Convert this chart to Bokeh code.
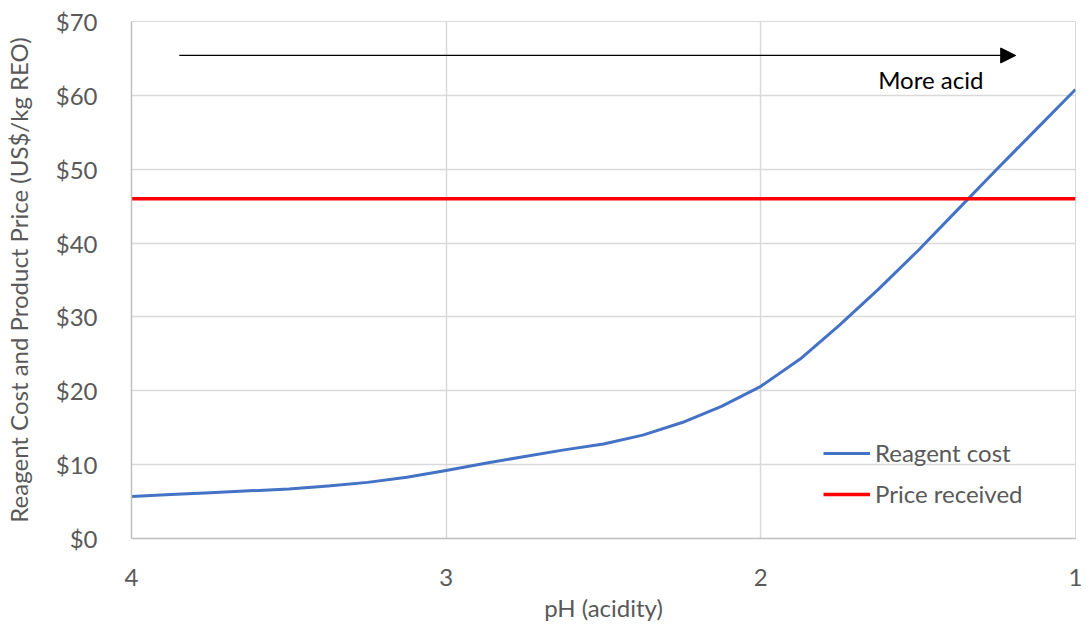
from bokeh.plotting import figure
from bokeh.models import Range1d, FixedTicker, NumeralTickFormatter, Arrow, NormalHead, Label, Legend, LegendItem, ColumnDataSource
from bokeh.embed import file_html
from bokeh.resources import INLINE

# Data
ph = [4.0, 3.875, 3.75, 3.625, 3.5, 3.375, 3.25, 3.125, 3.0, 2.875, 2.75, 2.625, 2.5,
      2.375, 2.25, 2.125, 2.0, 1.875, 1.75, 1.625, 1.5, 1.375, 1.25, 1.125, 1.0]
reagent_cost = [5.7, 5.95, 6.2, 6.45, 6.7, 7.1, 7.6, 8.3, 9.2, 10.2, 11.1, 12.0, 12.8,
                14.0, 15.7, 17.9, 20.6, 24.3, 28.9, 33.8, 39.0, 44.5, 50.0, 55.4, 60.8]
price_ph = [4.0, 1.0]
price_received = [46.0, 46.0]

x_ticks = [4, 3, 2, 1]
y_ticks = [0, 10, 20, 30, 40, 50, 60, 70]

arrow_start_ph = 3.848
arrow_end_ph = 1.19
arrow_level = 65.4
arrow_text = "More acid"
arrow_text_ph = 1.46
arrow_text_level = 62.2

FONT = "Lato"
GREY = "#595959"
GRID = "#d9d9d9"
FS = "24px"

p = figure(width=1085, height=624, output_backend="svg", toolbar_location=None,
           x_range=Range1d(4, 1), y_range=Range1d(0, 70),
           min_border_left=130, min_border_right=10, min_border_top=21, min_border_bottom=86)

p.outline_line_color = GRID
p.xgrid.grid_line_color = GRID
p.ygrid.grid_line_color = GRID
p.xgrid.grid_line_width = 1.5
p.ygrid.grid_line_width = 1.5

p.xaxis.ticker = FixedTicker(ticks=x_ticks)
p.yaxis.ticker = FixedTicker(ticks=y_ticks)
p.yaxis.formatter = NumeralTickFormatter(format="$0")

for ax in (p.xaxis, p.yaxis):
    ax.axis_line_color = "#bfbfbf"
    ax.axis_line_width = 1.5
    ax.major_tick_line_color = None
    ax.minor_tick_line_color = None
    ax.major_label_text_font = FONT
    ax.major_label_text_font_size = FS
    ax.major_label_text_color = GREY
    ax.axis_label_text_font = FONT
    ax.axis_label_text_font_size = FS
    ax.axis_label_text_color = GREY
    ax.axis_label_text_font_style = "normal"

p.xaxis.major_label_standoff = 24
p.yaxis.major_label_standoff = 28
p.xaxis.axis_label = "pH (acidity)"
p.yaxis.axis_label = "Reagent Cost and Product Price (US$/kg REO)"
p.xaxis.axis_label_standoff = 4
p.yaxis.axis_label_standoff = 20

src = ColumnDataSource(dict(x=ph, y=reagent_cost))
r_blue = p.line("x", "y", source=src, line_color="#4472c4", line_width=3, line_join="round")
r_red = p.line(price_ph, price_received, line_color="#ff0000", line_width=3.5)

p.add_layout(Arrow(end=NormalHead(size=15, fill_color="black", line_color="black"),
                   x_start=arrow_start_ph, y_start=arrow_level,
                   x_end=arrow_end_ph, y_end=arrow_level,
                   line_color="black", line_width=1.2))
p.add_layout(Label(x=arrow_text_ph, y=arrow_text_level, text=arrow_text,
                   text_align="center", text_baseline="middle",
                   text_font=FONT, text_font_size=FS, text_color="black"))

legend = Legend(items=[LegendItem(label="Reagent cost", renderers=[r_blue]),
                       LegendItem(label="Price received", renderers=[r_red])],
                location=(692, 30))
legend.border_line_color = None
legend.background_fill_alpha = 0
legend.padding = 0
legend.margin = 0
legend.spacing = 12
legend.glyph_width = 47
legend.glyph_height = 24
legend.label_height = 24
legend.label_standoff = 5
legend.label_text_font = FONT
legend.label_text_font_size = FS
legend.label_text_color = GREY
p.add_layout(legend)

open("out.html", "w").write(file_html(p, INLINE))
